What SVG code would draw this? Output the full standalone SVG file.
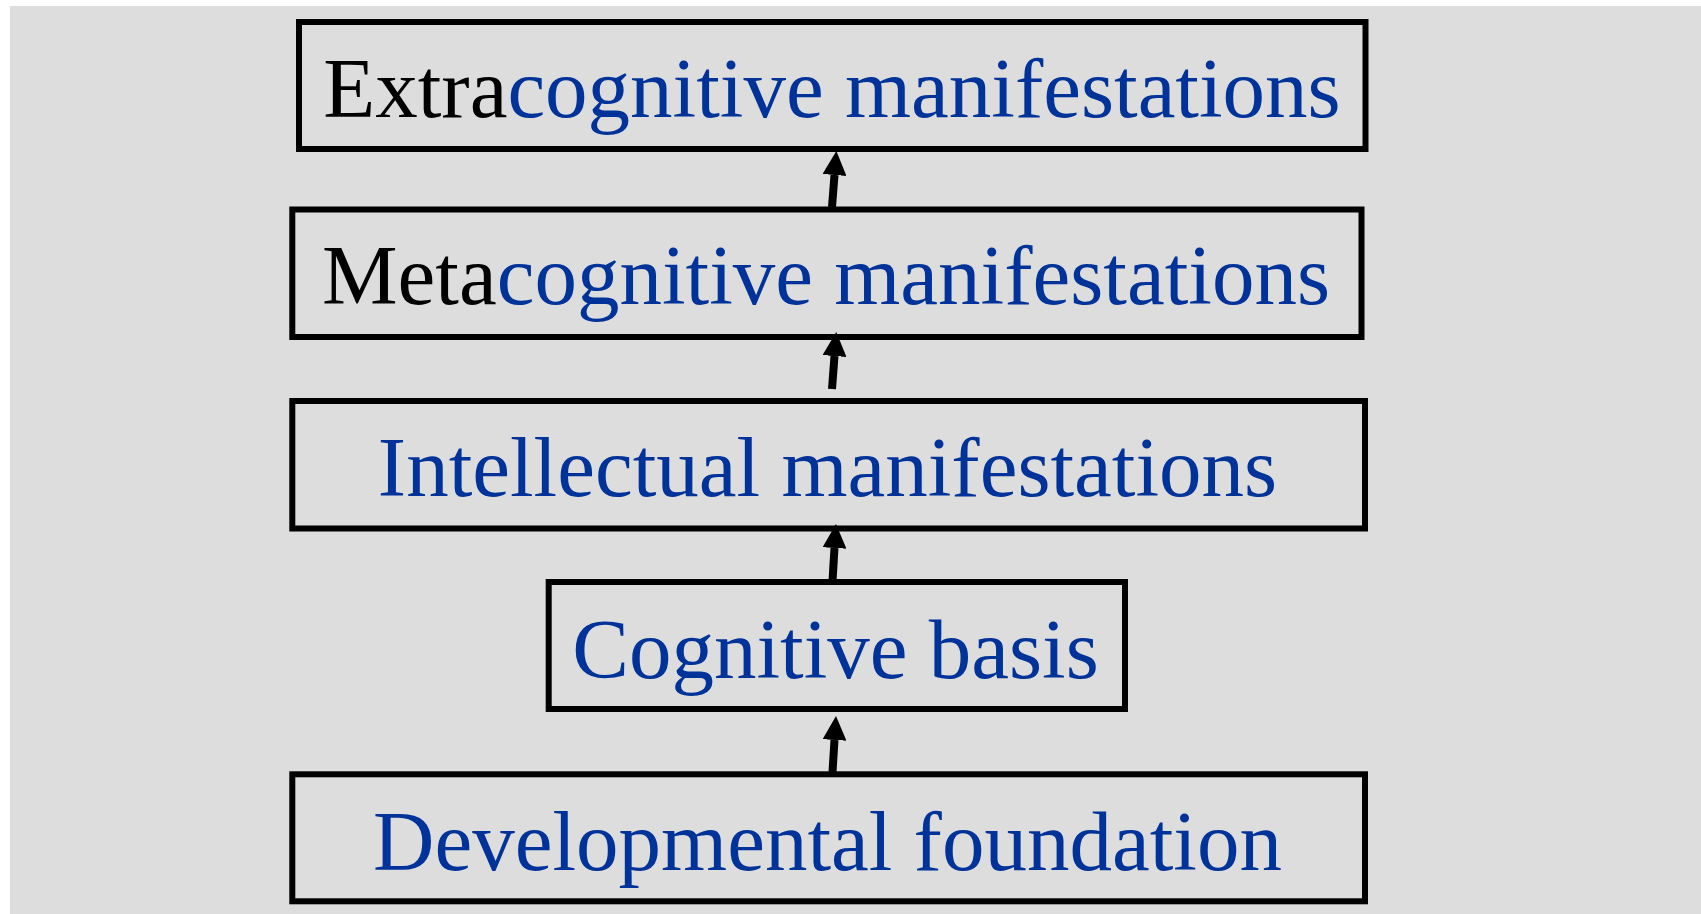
<svg xmlns="http://www.w3.org/2000/svg" width="1701" height="914" viewBox="0 0 1701 914">
<defs>
<style>
.box{fill:none;stroke:#000;stroke-width:6}
.t{font-family:"Liberation Serif","Times New Roman",serif;font-size:85px;fill:#003399;text-anchor:middle}
.k{fill:#000}
.c{stroke:#000;stroke-width:8;fill:none}
</style>
<marker id="ah" markerUnits="userSpaceOnUse" viewBox="0 0 24 24" refX="0" refY="12" markerWidth="24" markerHeight="24" orient="auto">
<path d="M0,0 L24,12 L0,24 z" fill="#000"/>
</marker>
</defs>
<rect x="0" y="0" width="1701" height="914" fill="#ffffff"/>
<rect x="10" y="6" width="1691" height="908" fill="#dddddd"/>
<g id="n1"><rect class="box" x="299" y="22" width="1066.5" height="127"/><text class="t" x="832" y="117"><tspan class="k">Extra</tspan>cognitive manifestations</text></g>
<g id="n2"><rect class="box" x="292.3" y="209.5" width="1069.2" height="127.5"/><text class="t" x="826" y="304"><tspan class="k">Meta</tspan>cognitive manifestations</text></g>
<g id="n3"><rect class="box" x="292.3" y="401" width="1072.7" height="127.5"/><text class="t" x="827.5" y="496">Intellectual manifestations</text></g>
<g id="n4"><rect class="box" x="548.7" y="582" width="576.3" height="127"/><text class="t" x="835.5" y="678">Cognitive basis</text></g>
<g id="n5"><rect class="box" x="292.3" y="774.3" width="1072.7" height="127"/><text class="t" x="827.5" y="870">Developmental foundation</text></g>
<g id="connectors">
<line class="c" x1="832" y1="207" x2="834.5" y2="175" marker-end="url(#ah)"/>
<line class="c" x1="832" y1="389" x2="834.5" y2="356" marker-end="url(#ah)"/>
<line class="c" x1="832.5" y1="581" x2="834.5" y2="548" marker-end="url(#ah)"/>
<line class="c" x1="832.5" y1="772" x2="834.5" y2="740" marker-end="url(#ah)"/>
</g>
</svg>
